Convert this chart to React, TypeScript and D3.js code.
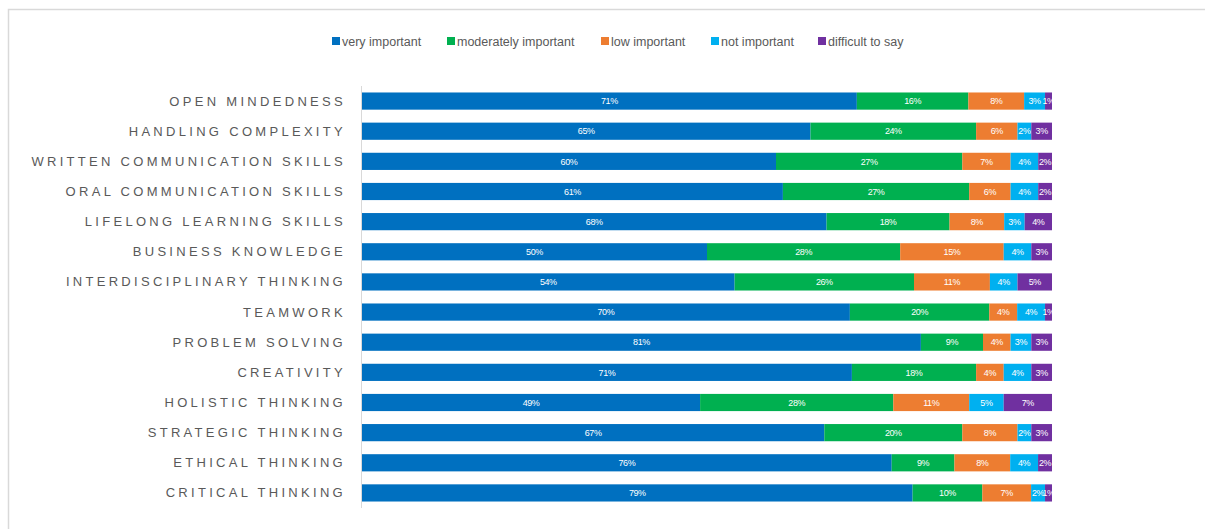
import React from "react";
import * as d3 from "d3";

const categories = [
  "OPEN MINDEDNESS",
  "HANDLING COMPLEXITY",
  "WRITTEN COMMUNICATION SKILLS",
  "ORAL COMMUNICATION SKILLS",
  "LIFELONG LEARNING SKILLS",
  "BUSINESS KNOWLEDGE",
  "INTERDISCIPLINARY THINKING",
  "TEAMWORK",
  "PROBLEM SOLVING",
  "CREATIVITY",
  "HOLISTIC THINKING",
  "STRATEGIC THINKING",
  "ETHICAL THINKING",
  "CRITICAL THINKING",
];

const seriesNames = ["very important", "moderately important", "low important", "not important", "difficult to say"];
const seriesColors = ["#0070C0", "#00B050", "#ED7D31", "#00B0F0", "#7030A0"];

const veryImportant = [71, 65, 60, 61, 68, 50, 54, 70, 81, 71, 49, 67, 76, 79];
const moderatelyImportant = [16, 24, 27, 27, 18, 28, 26, 20, 9, 18, 28, 20, 9, 10];
const lowImportant = [8, 6, 7, 6, 8, 15, 11, 4, 4, 4, 11, 8, 8, 7];
const notImportant = [3, 2, 4, 4, 3, 4, 4, 4, 3, 4, 5, 2, 4, 2];
const difficultToSay = [1, 3, 2, 2, 4, 3, 5, 1, 3, 3, 7, 3, 2, 1];

const seriesValues = [veryImportant, moderatelyImportant, lowImportant, notImportant, difficultToSay];

const W = 1205;
const H = 529;
const plotLeft = 362;
const plotRight = 1052;
const plotTop = 86;
const plotBottom = 508;

const legendX = [332, 447, 601, 711, 818];

export default function App() {
  const rows = categories.map((c, i) => {
    const r: any = { cat: c };
    seriesNames.forEach((s, k) => (r[s] = seriesValues[k][i]));
    return r;
  });
  const stacked = d3.stack<any>().keys(seriesNames).offset(d3.stackOffsetExpand)(rows);
  const x = d3.scaleLinear().domain([0, 1]).range([plotLeft, plotRight]);
  const y = d3.scaleBand().domain(categories).range([plotTop, plotBottom]).paddingInner(0.43).paddingOuter(0.215);

  return (
    <svg width={W} height={H} style={{ position: "absolute", left: 0, top: 0, background: "#fff" }}>
      <rect x={8.5} y={9.5} width={1300} height={700} fill="none" stroke="#d9d9d9" strokeWidth={1.5} />
      {/* legend */}
      {seriesNames.map((s, k) => (
        <g key={s} transform={`translate(${legendX[k]},0)`}>
          <rect x={0} y={37} width={8} height={8} fill={seriesColors[k]} />
          <text x={10} y={45.5} fontSize={12.5} fill="#595959" fontFamily="'Liberation Sans', Arial, sans-serif">
            {s}
          </text>
        </g>
      ))}
      {/* category labels */}
      {categories.map((c) => (
        <text
          key={c}
          x={346}
          y={(y(c) as number) + y.bandwidth() / 2}
          dy="0.35em"
          textAnchor="end"
          fontSize={13}
          letterSpacing={3.3}
          fill="#595959"
          fontFamily="'Liberation Sans', Arial, sans-serif"
        >
          {c}
        </text>
      ))}
      {/* bars */}
      {stacked.map((layer, k) => (
        <g key={layer.key}>
          {layer.map((d, i) => {
            const x0 = x(d[0]);
            const x1 = x(d[1]);
            const yy = y(categories[i]) as number;
            return (
              <g key={i}>
                <rect x={x0} y={yy} width={x1 - x0} height={y.bandwidth()} fill={seriesColors[k]} />
                <text
                  x={(x0 + x1) / 2}
                  y={yy + y.bandwidth() / 2}
                  dy="0.35em"
                  textAnchor="middle"
                  fontSize={9}
                  letterSpacing={-0.4}
                  fill="#ffffff"
                  fontFamily="'Liberation Sans', Arial, sans-serif"
                >
                  {seriesValues[k][i]}%
                </text>
              </g>
            );
          })}
        </g>
      ))}
      <line x1={plotLeft - 0.5} x2={plotLeft - 0.5} y1={plotTop} y2={plotBottom} stroke="#d9d9d9" strokeWidth={1} />
    </svg>
  );
}
